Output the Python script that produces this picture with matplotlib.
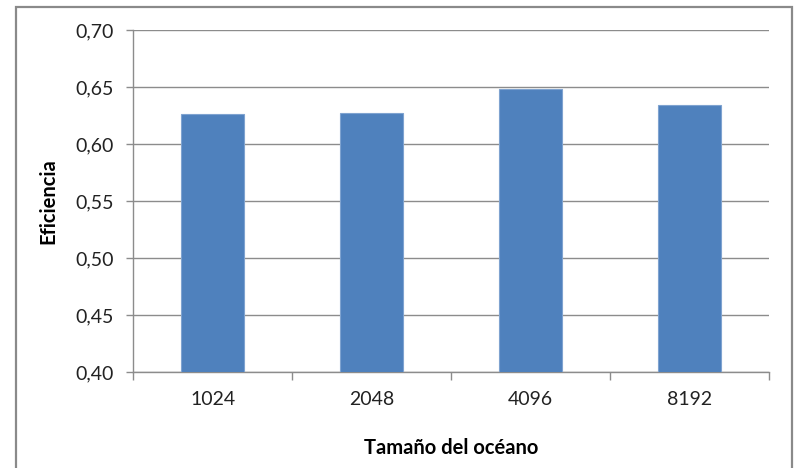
import matplotlib
matplotlib.use("Agg")
import matplotlib.pyplot as plt
from matplotlib.patches import Rectangle

# Eficiencia por tamaño del océano
categorias = ["1024", "2048", "4096", "8192"]
eficiencia = [0.626, 0.627, 0.648, 0.634]
ticks_y = [0.40, 0.45, 0.50, 0.55, 0.60, 0.65, 0.70]
etiquetas_y = ["0,40", "0,45", "0,50", "0,55", "0,60", "0,65", "0,70"]

plt.rcParams["font.family"] = ["Lato", "DejaVu Sans"]

W, H = 798, 468
fig = plt.figure(figsize=(W / 100, H / 100), dpi=100)
fig.patch.set_facecolor("white")

ax = fig.add_axes([133.3 / W, 1 - 372 / H, (768.7 - 133.3) / W, (372 - 30) / H])

grid_color = "#8c8c8c"
x = list(range(len(categorias)))
ax.bar(x, eficiencia, width=0.4, color="#4f81bd", edgecolor="#7fa3d0",
       linewidth=0.8, zorder=3)

ax.set_xlim(-0.5, len(categorias) - 0.5)
ax.set_ylim(0.40, 0.70)
ax.set_yticks(ticks_y)
ax.set_yticklabels(etiquetas_y)
ax.yaxis.grid(True, color=grid_color, linewidth=1.0, zorder=0)

# Ticks del eje X en los límites de cada categoría
ax.set_xticks([i - 0.5 for i in range(len(categorias) + 1)])
ax.set_xticklabels([])
ax.set_xticks(x, minor=True)
ax.set_xticklabels(categorias, minor=True)
ax.tick_params(axis="x", which="major", length=6, width=1, color=grid_color, direction="out")
ax.tick_params(axis="x", which="minor", length=0, pad=14, labelsize=14, labelcolor="#222222")
ax.tick_params(axis="y", length=5, width=1, color=grid_color, pad=9,
               labelsize=14, labelcolor="#222222")

for side in ["top", "right"]:
    ax.spines[side].set_visible(False)
for side in ["left", "bottom"]:
    ax.spines[side].set_color(grid_color)
    ax.spines[side].set_linewidth(1.0)

ax.set_ylabel("Eficiencia", fontsize=14.5, fontweight="bold", labelpad=12)
ax.set_xlabel("Tamaño del océano", fontsize=14.5, fontweight="bold", labelpad=21)

# Marco exterior del gráfico
fig.add_artist(Rectangle((15.7 / W, -0.05), (791.7 - 15.7) / W, 1.05 - 7 / H,
                         transform=fig.transFigure, fill=False,
                         edgecolor="#8a8a8a", linewidth=1.6, clip_on=False))

fig.savefig("out.png", dpi=100, facecolor="white")
